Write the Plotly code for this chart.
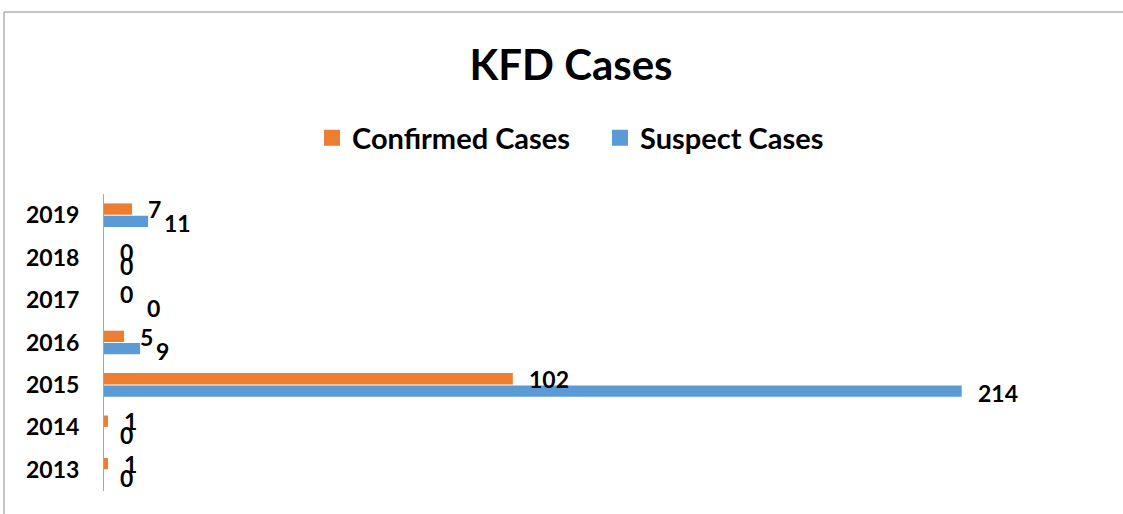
import plotly.graph_objects as go

years = ["2013", "2014", "2015", "2016", "2017", "2018", "2019"]
confirmed = [1, 1, 102, 5, 0, 0, 7]
suspect = [0, 0, 214, 9, 0, 0, 11]

ORANGE = "#ED7D31"
BLUE = "#5B9BD5"
FONT = "Lato"

# small label nudges (style only), per year, mimicking the reference's label placement
suspect_label_dx = {"2017": 27}

fig = go.Figure()
fig.add_trace(go.Bar(y=years, x=suspect, orientation="h", name="Suspect Cases",
                     marker=dict(color=BLUE, line=dict(width=0)), showlegend=False))
fig.add_trace(go.Bar(y=years, x=confirmed, orientation="h", name="Confirmed Cases",
                     marker=dict(color=ORANGE, line=dict(width=0)), showlegend=False))
# legend entries with larger square keys
for name, col in [("Confirmed Cases", ORANGE), ("Suspect Cases", BLUE)]:
    fig.add_trace(go.Scatter(x=[None], y=[None], mode="markers", name=name,
                             marker=dict(symbol="square", size=18, color=col)))

annots = []
for i, (yr, c, s) in enumerate(zip(years, confirmed, suspect)):
    annots.append(dict(x=c, y=i, xref="x", yref="y", text=str(c), showarrow=False,
                       xanchor="left", yanchor="middle", xshift=14, yshift=6,
                       font=dict(family=FONT, size=23, color="black", weight="bold")))
    annots.append(dict(x=s, y=i, xref="x", yref="y", text=str(s), showarrow=False,
                       xanchor="left", yanchor="middle", xshift=14 + suspect_label_dx.get(yr, 0),
                       yshift=-8,
                       font=dict(family=FONT, size=23, color="black", weight="bold")))

fig.update_layout(
    width=1123, height=514,
    margin=dict(l=104, r=17, t=194, b=23, autoexpand=False),
    paper_bgcolor="white", plot_bgcolor="white",
    barmode="group", bargap=0.42, bargroupgap=0.08,
    title=dict(text="KFD Cases", x=571 / 1123, xanchor="center", xref="container",
               y=1 - 65 / 514, yanchor="middle", yref="container",
               font=dict(family=FONT, size=42, color="black", weight="bold")),
    legend=dict(orientation="h", x=(312 - 104) / 1002, xanchor="left",
                y=(491 - 138) / 297, yanchor="middle",
                font=dict(family=FONT, size=29, color="black", weight="bold"),
                itemsizing="trace", itemwidth=30, entrywidth=243, entrywidthmode="pixels",
                bgcolor="rgba(0,0,0,0)"),
    xaxis=dict(range=[0, 250], showgrid=False, zeroline=False, showticklabels=False,
               showline=False, ticks="", automargin=False),
    yaxis=dict(type="category", categoryorder="array", categoryarray=years,
               range=[-0.5, len(years) - 0.5],
               showgrid=False, zeroline=False, showline=True, linecolor="#a6a6a6", linewidth=1,
               ticks="", ticklabelstandoff=19, automargin=False,
               tickfont=dict(family=FONT, size=23, color="black", weight="bold")),
    annotations=annots,
    shapes=[dict(type="rect", xref="paper", yref="paper",
                 x0=(4 - 104) / 1002, x1=1.2, y0=-0.3, y1=(491 - 12) / 297,
                 line=dict(color="#8c8c8c", width=1), fillcolor="rgba(0,0,0,0)", layer="below")],
)

fig.write_html("out.html", config={"displayModeBar": False},
               post_script="document.body.style.margin='0';")
